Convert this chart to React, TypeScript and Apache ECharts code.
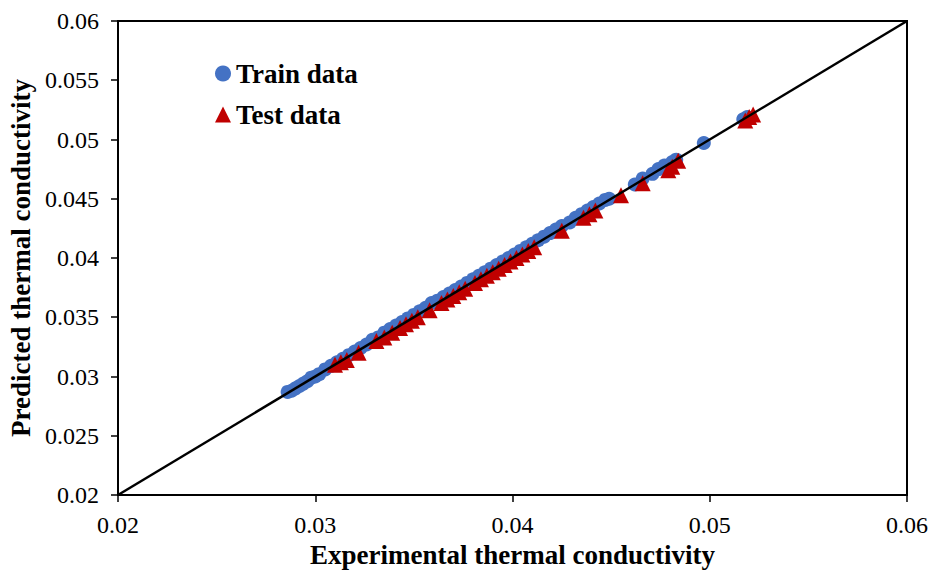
import React, { useEffect, useRef } from "react";
import * as echarts from "echarts";

const trainData: number[][] = [
  [0.0286, 0.0287], [0.0288, 0.0288], [0.0290, 0.0290], [0.0292, 0.0292], [0.0294, 0.0294],
  [0.0296, 0.0296], [0.0298, 0.0299], [0.0300, 0.0300], [0.0302, 0.0302], [0.0305, 0.0306],
  [0.0308, 0.0309], [0.0311, 0.0312], [0.0314, 0.0315], [0.0317, 0.0318], [0.0320, 0.0321],
  [0.0323, 0.0324], [0.0326, 0.0327], [0.0329, 0.0331], [0.0332, 0.0333], [0.0335, 0.0337],
  [0.0338, 0.0340], [0.0341, 0.0343], [0.0344, 0.0346], [0.0347, 0.0349], [0.0350, 0.0352],
  [0.0353, 0.0355], [0.0356, 0.0358], [0.0359, 0.0362], [0.0362, 0.0364], [0.0365, 0.0367],
  [0.0368, 0.0370], [0.0371, 0.0373], [0.0374, 0.0376], [0.0377, 0.0379], [0.0380, 0.0382],
  [0.0383, 0.0385], [0.0386, 0.0388], [0.0389, 0.0391], [0.0392, 0.0394], [0.0395, 0.0397],
  [0.0398, 0.0400], [0.0401, 0.0403], [0.0404, 0.0406], [0.0407, 0.0409], [0.0410, 0.0412],
  [0.0413, 0.0415], [0.0416, 0.0418], [0.0419, 0.0421], [0.0422, 0.0424], [0.0425, 0.0427],
  [0.0429, 0.0430], [0.0432, 0.0434], [0.0435, 0.0437], [0.0438, 0.0440], [0.0441, 0.0443],
  [0.0444, 0.0446], [0.0447, 0.0449], [0.0449, 0.0450], [0.0462, 0.0462], [0.0466, 0.0467],
  [0.0471, 0.0471], [0.0474, 0.0475], [0.0477, 0.0478], [0.0481, 0.0481], [0.0483, 0.0483],
  [0.0497, 0.0497], [0.0517, 0.0517], [0.0519, 0.0519],
];

const testData: number[][] = [
  [0.0310, 0.0310], [0.0313, 0.0312], [0.0316, 0.0314], [0.0322, 0.0320], [0.0331, 0.0330],
  [0.0335, 0.0333], [0.0339, 0.0337], [0.0343, 0.0341], [0.0346, 0.0344], [0.0349, 0.0347],
  [0.0352, 0.0350], [0.0358, 0.0356], [0.0364, 0.0362], [0.0367, 0.0365], [0.0370, 0.0368],
  [0.0373, 0.0371], [0.0376, 0.0374], [0.0381, 0.0379], [0.0384, 0.0382], [0.0387, 0.0385],
  [0.0390, 0.0388], [0.0393, 0.0391], [0.0396, 0.0394], [0.0399, 0.0397], [0.0402, 0.0400],
  [0.0405, 0.0403], [0.0408, 0.0406], [0.0411, 0.0409], [0.0425, 0.0423], [0.0436, 0.0434],
  [0.0439, 0.0437], [0.0442, 0.0440], [0.0455, 0.0453], [0.0466, 0.0463], [0.0479, 0.0474],
  [0.0481, 0.0477], [0.0484, 0.0482], [0.0518, 0.0516], [0.0520, 0.0519], [0.0522, 0.0521],
];

const diagonal: number[][] = [[0.02, 0.02], [0.06, 0.06]];

const xTitle = "Experimental thermal conductivity";
const yTitle = "Predicted thermal conductivity";

const FONT = "Liberation Serif";

export default function App() {
  const ref = useRef<HTMLDivElement>(null);
  useEffect(() => {
    document.body.style.margin = "0";
    if (!ref.current) return;
    const chart = echarts.init(ref.current, undefined, { renderer: "svg" });
    const axisCommon = {
      min: 0.02,
      max: 0.06,
      splitLine: { show: false },
      axisLine: { show: true, lineStyle: { color: "#000", width: 2 } },
      axisTick: { show: true, inside: false, length: 7, lineStyle: { color: "#000", width: 1.5 } },
      nameTextStyle: { fontFamily: FONT, fontWeight: "bold", fontSize: 27, color: "#000" },
    };
    chart.setOption({
      animation: false,
      backgroundColor: "#fff",
      textStyle: { fontFamily: FONT },
      grid: {
        left: 118,
        right: 25,
        top: 21,
        bottom: 75,
        show: true,
        borderColor: "#000",
        borderWidth: 2,
        containLabel: false,
        outerBoundsMode: "none",
      },
      legend: {
        orient: "vertical",
        left: 210,
        top: 55,
        itemGap: 14,
        itemWidth: 16,
        itemHeight: 16,
        textStyle: { fontFamily: FONT, fontWeight: "bold", fontSize: 27, color: "#000" },
        data: [
          { name: "Train data", icon: "circle" },
          { name: "Test data", icon: "triangle" },
        ],
      },
      xAxis: {
        ...axisCommon,
        type: "value",
        interval: 0.01,
        name: xTitle,
        nameLocation: "middle",
        nameGap: 45,
        axisLabel: { fontFamily: FONT, fontSize: 24, color: "#000", margin: 18, formatter: (v: number) => String(+v.toFixed(3)) },
      },
      yAxis: {
        ...axisCommon,
        type: "value",
        interval: 0.005,
        name: yTitle,
        nameLocation: "middle",
        nameGap: 82,
        axisLabel: { fontFamily: FONT, fontSize: 24, color: "#000", margin: 19, formatter: (v: number) => String(+v.toFixed(3)) },
      },
      series: [
        {
          name: "Train data",
          type: "scatter",
          data: trainData,
          symbol: "circle",
          symbolSize: 14,
          itemStyle: { color: "#4472C4", opacity: 1 },
          z: 2,
        },
        {
          name: "Test data",
          type: "scatter",
          data: testData,
          symbol: "triangle",
          symbolSize: 16,
          itemStyle: { color: "#C00000", opacity: 1 },
          z: 3,
        },
        {
          name: "diag",
          type: "line",
          data: diagonal,
          showSymbol: false,
          symbol: "none",
          lineStyle: { color: "#000", width: 2.5 },
          z: 4,
          silent: true,
        },
      ],
    });
    return () => chart.dispose();
  }, []);
  return <div ref={ref} style={{ width: 932, height: 570 }} />;
}
